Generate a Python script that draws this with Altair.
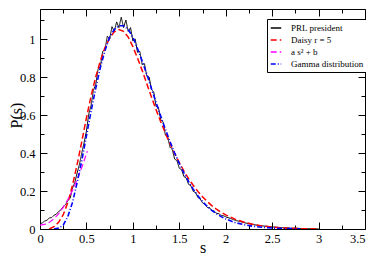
import altair as alt
import pandas as pd

# ---- data ----
prl_s = [0.000, 0.025, 0.050, 0.075, 0.100, 0.125, 0.150, 0.175, 0.200, 0.225,
         0.250, 0.275, 0.300, 0.325, 0.350, 0.375, 0.400, 0.425, 0.450, 0.475,
         0.500, 0.525, 0.550, 0.575, 0.600, 0.625, 0.650, 0.675, 0.700, 0.725,
         0.750, 0.775, 0.800, 0.825, 0.850, 0.875, 0.900, 0.925, 0.950, 0.975,
         1.000, 1.025, 1.050, 1.075, 1.100, 1.125, 1.150, 1.175, 1.200, 1.225,
         1.250, 1.275, 1.300, 1.325, 1.350, 1.375, 1.400, 1.425, 1.450, 1.475,
         1.500, 1.525, 1.550, 1.575, 1.600, 1.625, 1.650, 1.675, 1.700, 1.725,
         1.750, 1.775, 1.800, 1.825, 1.850, 1.875, 1.900, 1.925, 1.950, 1.975,
         2.000, 2.050, 2.100, 2.150, 2.200, 2.250, 2.300, 2.350, 2.400, 2.450,
         2.500, 2.550, 2.600, 2.650, 2.700, 2.750, 2.800, 2.850, 2.900, 2.950, 3.000]
prl_p = [0.028, 0.032, 0.042, 0.046, 0.058, 0.060, 0.072, 0.078, 0.092, 0.100,
         0.118, 0.128, 0.150, 0.162, 0.215, 0.245, 0.295, 0.340, 0.400, 0.455,
         0.515, 0.605, 0.650, 0.730, 0.760, 0.840, 0.855, 0.935, 0.945, 1.015,
         1.000, 1.065, 1.040, 1.090, 1.060, 1.115, 1.060, 1.100, 1.040, 1.060,
         0.990, 1.000, 0.930, 0.935, 0.865, 0.870, 0.805, 0.800, 0.735, 0.720,
         0.645, 0.640, 0.575, 0.565, 0.495, 0.485, 0.430, 0.418, 0.368, 0.360,
         0.320, 0.312, 0.276, 0.268, 0.235, 0.228, 0.198, 0.192, 0.166, 0.158,
         0.138, 0.130, 0.114, 0.112, 0.097, 0.095, 0.083, 0.081, 0.072, 0.070,
         0.064, 0.056, 0.046, 0.040, 0.033, 0.028, 0.023, 0.019, 0.016, 0.014,
         0.011, 0.009, 0.007, 0.006, 0.004, 0.004, 0.003, 0.002, 0.002, 0.001, 0.001]

daisy_s = [0.10, 0.15, 0.20, 0.25, 0.30, 0.35, 0.40, 0.45, 0.50, 0.55, 0.60, 0.65,
           0.70, 0.75, 0.80, 0.85, 0.90, 0.95, 1.00, 1.05, 1.10, 1.15, 1.20, 1.25,
           1.30, 1.35, 1.40, 1.45, 1.50, 1.55, 1.60, 1.65, 1.70, 1.75, 1.80, 1.85,
           1.90, 1.95, 2.00, 2.10, 2.20, 2.30, 2.40, 2.50, 2.60, 2.70, 2.80, 2.90, 3.00]
daisy_p = [0.000, 0.012, 0.035, 0.075, 0.140, 0.230, 0.340, 0.460, 0.585, 0.700, 0.800, 0.885,
           0.955, 1.005, 1.038, 1.050, 1.040, 1.010, 0.960, 0.900, 0.835, 0.765, 0.695, 0.628,
           0.565, 0.505, 0.450, 0.398, 0.350, 0.305, 0.265, 0.230, 0.198, 0.170, 0.145, 0.123,
           0.104, 0.088, 0.074, 0.052, 0.036, 0.024, 0.016, 0.010, 0.006, 0.004, 0.002, 0.001, 0.000]

quad_s = [0.00, 0.05, 0.10, 0.15, 0.20, 0.25, 0.30, 0.35, 0.40, 0.45, 0.50, 0.51]
quad_p = [0.020, 0.024, 0.035, 0.054, 0.080, 0.114, 0.155, 0.204, 0.260, 0.324, 0.395, 0.410]

gamma_s = [0.15, 0.20, 0.25, 0.30, 0.35, 0.40, 0.45, 0.50, 0.55, 0.60, 0.65, 0.70,
           0.75, 0.80, 0.85, 0.90, 0.95, 1.00, 1.05, 1.10, 1.15, 1.20, 1.25, 1.30,
           1.35, 1.40, 1.45, 1.50, 1.55, 1.60, 1.65, 1.70, 1.75, 1.80, 1.85, 1.90,
           1.95, 2.00, 2.10, 2.20, 2.30, 2.40, 2.50, 2.60, 2.70, 2.80]
gamma_p = [0.000, 0.005, 0.020, 0.065, 0.140, 0.245, 0.360, 0.490, 0.620, 0.740, 0.850, 0.940,
           1.010, 1.050, 1.070, 1.070, 1.050, 1.010, 0.950, 0.885, 0.815, 0.740, 0.665, 0.595,
           0.525, 0.460, 0.400, 0.345, 0.295, 0.250, 0.210, 0.175, 0.145, 0.120, 0.098, 0.080,
           0.065, 0.053, 0.034, 0.022, 0.014, 0.009, 0.005, 0.003, 0.002, 0.001]

names = ["PRL president", "Daisy r = 5", "a s\u00b2 + b", "Gamma distribution"]
colors = ["#000000", "#ff0000", "#ff00ff", "#0000ff"]
dashes = [[1, 0], [6, 3], [6, 3], [5, 2, 1, 2]]
widths = [1.0, 1.5, 1.2, 1.6]

x_major = [0, 0.5, 1, 1.5, 2, 2.5, 3, 3.5]
x_minor = [0.25, 0.75, 1.25, 1.75, 2.25, 2.75, 3.25]
y_major = [0, 0.2, 0.4, 0.6, 0.8, 1.0]
y_minor = [0.1, 0.3, 0.5, 0.7, 0.9, 1.1]

rows = []
for nm, ss, pp in [(names[0], prl_s, prl_p), (names[1], daisy_s, daisy_p),
                   (names[2], quad_s, quad_p), (names[3], gamma_s, gamma_p)]:
    for a, b in zip(ss, pp):
        rows.append({"series": nm, "s": a, "p": b})
df = pd.DataFrame(rows)

FONT = "Liberation Serif"
xscale = alt.Scale(domain=[0, 3.5], nice=False, zero=False)
yscale = alt.Scale(domain=[0, 1.158], nice=False)
cscale = alt.Scale(domain=names, range=colors)
dscale = alt.Scale(domain=names, range=dashes)

leg = alt.Legend(title=None, orient="none", legendX=227, legendY=10,
                 strokeColor="black", fillColor="white", padding=3,
                 labelFont=FONT, labelFontSize=9, labelColor="black",
                 symbolType="stroke", symbolSize=110, symbolStrokeWidth=1.5,
                 rowPadding=1, labelOffset=9, cornerRadius=0)

common = dict(domain=False, grid=False, tickColor="black", tickWidth=1)

axes_x = [
    alt.Axis(orient="bottom", values=x_major, format="~g", offset=-7, tickSize=7,
             labelPadding=3, labelFont=FONT, labelFontSize=12.5, labelColor="black",
             labelFlush=False, labelOverlap=False,
             labelAlign=alt.condition("datum.value >= 3.5", alt.value("right"), alt.value("center")),
             title="s", titleFont=FONT, titleFontSize=16, titleFontWeight="normal",
             titleColor="black", titleY=30, titleBaseline="alphabetic", **common),
    alt.Axis(orient="bottom", values=x_minor, offset=-4, tickSize=4, labels=False,
             title=None, **common),
    alt.Axis(orient="top", values=x_major, offset=-7, tickSize=7, labels=False,
             title=None, **common),
    alt.Axis(orient="top", values=x_minor, offset=-4, tickSize=4, labels=False,
             title=None, **common),
]
axes_y = [
    alt.Axis(orient="left", values=y_major, format="~g", offset=-7, tickSize=7,
             labelPadding=5, labelFont=FONT, labelFontSize=12.5, labelColor="black",
             labelFlush=False, labelOverlap=False,
             title="P(s)", titleFont=FONT, titleFontSize=16, titleFontWeight="normal",
             titleColor="black", titleX=-31, titleY=106, titleBaseline="middle",
             **common),
    alt.Axis(orient="left", values=y_minor, offset=-4, tickSize=4, labels=False,
             title=None, **common),
    alt.Axis(orient="right", values=y_major, offset=-7, tickSize=7, labels=False,
             title=None, **common),
    alt.Axis(orient="right", values=y_minor, offset=-4, tickSize=4, labels=False,
             title=None, **common),
]

layers = []
for i, nm in enumerate(names):
    layers.append(
        alt.Chart(df)
        .transform_filter(alt.datum.series == nm)
        .mark_line(strokeWidth=widths[i], clip=True)
        .encode(
            x=alt.X("s:Q", scale=xscale, axis=axes_x[i]),
            y=alt.Y("p:Q", scale=yscale, axis=axes_y[i]),
            color=alt.Color("series:N", scale=cscale, legend=leg),
            strokeDash=alt.StrokeDash("series:N", scale=dscale, legend=leg),
        )
    )

chart = (
    alt.layer(*layers)
    .resolve_axis(x="independent", y="independent")
    .properties(width=325, height=220,
                autosize=alt.AutoSizeParams(type="none"),
                padding={"left": 32, "top": 1, "right": 1, "bottom": 26},
                background="white")
    .configure_view(stroke="black", strokeWidth=1)
)

chart.save("out.html", embed_options={"renderer": "svg", "actions": False})
